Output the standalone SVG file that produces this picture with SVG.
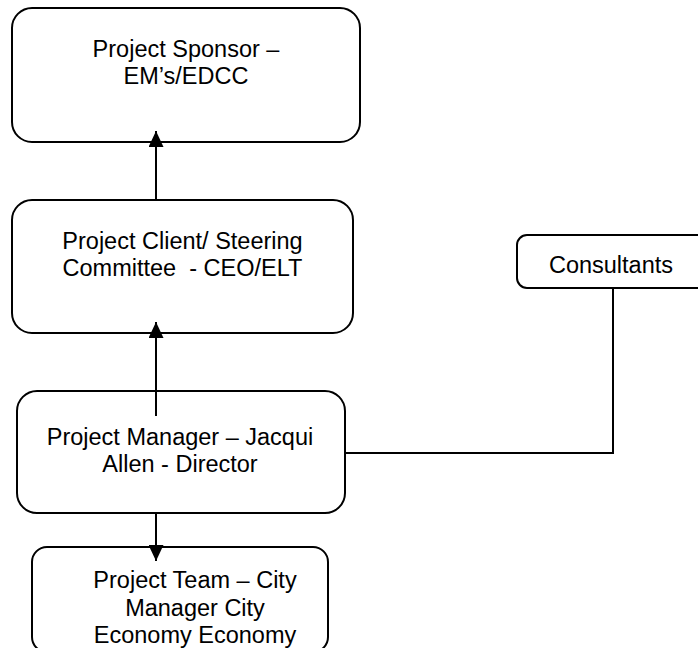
<svg xmlns="http://www.w3.org/2000/svg" width="698" height="648" viewBox="0 0 698 648">
<style>
.box{fill:#fff;stroke:#000;stroke-width:2}
.t{font-family:"Liberation Sans",Arial,sans-serif;font-size:23.5px;fill:#000;text-anchor:middle}
.c{fill:none;stroke:#000;stroke-width:2}
</style>
<defs>
<marker id="ah" viewBox="0 0 16 15" refX="16" refY="7.5" markerWidth="16" markerHeight="15" markerUnits="userSpaceOnUse" orient="auto">
<path d="M0,0 L16,7.5 L0,15 Z" fill="#000"/>
</marker>
</defs>
<rect width="698" height="648" fill="#fff"/>
<g id="sponsor">
<rect class="box" x="12" y="8" width="348" height="134" rx="20"/>
<text class="t" x="186" y="57">Project Sponsor –</text>
<text class="t" x="186" y="84">EM’s/EDCC</text>
</g>
<g id="client">
<rect class="box" x="12" y="200" width="341" height="133" rx="20"/>
<text class="t" x="182.5" y="249" xml:space="preserve">Project Client/ Steering</text>
<text class="t" x="182.5" y="276" xml:space="preserve">Committee  - CEO/ELT</text>
</g>
<g id="manager">
<rect class="box" x="17" y="391" width="328" height="122" rx="20"/>
<text class="t" x="180" y="445">Project Manager – Jacqui</text>
<text class="t" x="180" y="472">Allen - Director</text>
</g>
<g id="team">
<rect class="box" x="32" y="547" width="296" height="105" rx="15"/>
<text class="t" x="195" y="588">Project Team – City</text>
<text class="t" x="195" y="615.5">Manager City</text>
<text class="t" x="195" y="643">Economy Economy</text>
</g>
<g id="consultants">
<rect class="box" x="517" y="235" width="200" height="53" rx="10"/>
<text class="t" x="611" y="273">Consultants</text>
</g>
<g id="connectors">
<line class="c" x1="156" y1="200" x2="156" y2="131" marker-end="url(#ah)"/>
<line class="c" x1="156" y1="416" x2="156" y2="322" marker-end="url(#ah)"/>
<line class="c" x1="156" y1="513" x2="156" y2="561" marker-end="url(#ah)"/>
<polyline class="c" points="613,288 613,453 345,453"/>
</g>
</svg>
